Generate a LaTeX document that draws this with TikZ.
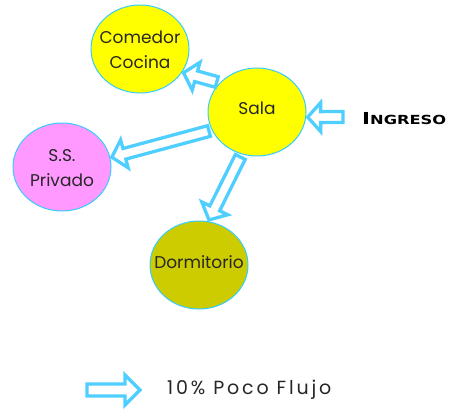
\documentclass[tikz,border=0pt]{standalone}
\usepackage{fontspec}
\setmainfont{Poppins}
\newfontfamily\ingfont{DejaVu Sans}[FakeStretch=1.3]
\newfontfamily\legfont{Poppins}[LetterSpace=15]
\usetikzlibrary{shapes.geometric,calc}
\definecolor{flow}{HTML}{4FCFFF}
\definecolor{rim}{HTML}{33CCFF}
\definecolor{yel}{HTML}{FFFF00}
\definecolor{pinkish}{HTML}{FF99FF}
\definecolor{olive}{HTML}{CCCC00}
\tikzset{
  room/.style={ellipse, draw=rim, line width=1pt, minimum width=98pt, minimum height=88pt,
    inner sep=0pt, font=\fontsize{17}{25}\selectfont, text=black!85},
  flowarrow/.style={draw=flow, line width=3.3pt, fill=white, line join=miter},
}
\newcommand\roomtext[2][0pt]{\raisebox{#1}[0pt][0pt]{\makebox[0pt]{\begin{tabular}{@{}c@{}}#2\end{tabular}}}}
\def\fas{5.5pt}\def\faw{14.5pt}\def\fah{13pt}\def\fatail{3pt}\def\fatip{1.5pt}
\newcommand\flowarrow[2]{%
  \coordinate (fa-a) at ($(#1)!\fatail!(#2)$);
  \coordinate (fa-b) at ($(#2)!\fatip!(#1)$);
  \coordinate (fa-c) at ($(fa-b)!\fah!(fa-a)$);
  \draw[flowarrow] ($(fa-a)!\fas!90:(fa-b)$) -- ($(fa-c)!\fas!90:(fa-b)$)
    -- ($(fa-c)!\faw!90:(fa-b)$) -- (fa-b) -- ($(fa-c)!\faw!-90:(fa-b)$)
    -- ($(fa-c)!\fas!-90:(fa-b)$) -- ($(fa-a)!\fas!-90:(fa-b)$) -- cycle;}
\begin{document}
\begin{tikzpicture}[x=1pt,y=-1pt]
\useasboundingbox (0,0) rectangle (452,408);
\node[room, fill=yel] (com) at (140,49) {\roomtext[-6pt]{Comedor\\Cocina}};
\node[room, fill=yel] (sala) at (257,112) {\roomtext[-2pt]{Sala}};
\node[room, fill=pinkish] (ss) at (62,167) {\roomtext[-6pt]{S.S.\\Privado}};
\node[room, fill=olive] (dorm) at (199,265) {\roomtext[-3pt]{Dormitorio}};
\node[anchor=west, inner sep=0pt, font=\ingfont\bfseries\fontsize{12.5}{14}\selectfont] (ing) at (362,119) {{\fontsize{16.5}{14}\selectfont I}NGRESO};
\coordinate (ingtail) at (346,117);
\node[anchor=west, inner sep=0pt, font=\legfont\fontsize{19}{22}\selectfont, text=black!85] (leg) at (167,390) {10\% Poco Flujo};
\coordinate (legtail) at (87,390);
\coordinate (leghead) at (140,390);
\flowarrow{sala.142}{com.-29}
\flowarrow{sala.202}{ss.11}
\flowarrow{sala.250}{dorm.78}
\flowarrow{ingtail}{sala.-6}
\begin{scope}
\def\fas{6pt}\def\faw{15pt}\def\fah{15pt}\def\fatail{0pt}\def\fatip{0pt}
\flowarrow{legtail}{leghead}
\end{scope}
\end{tikzpicture}
\end{document}
